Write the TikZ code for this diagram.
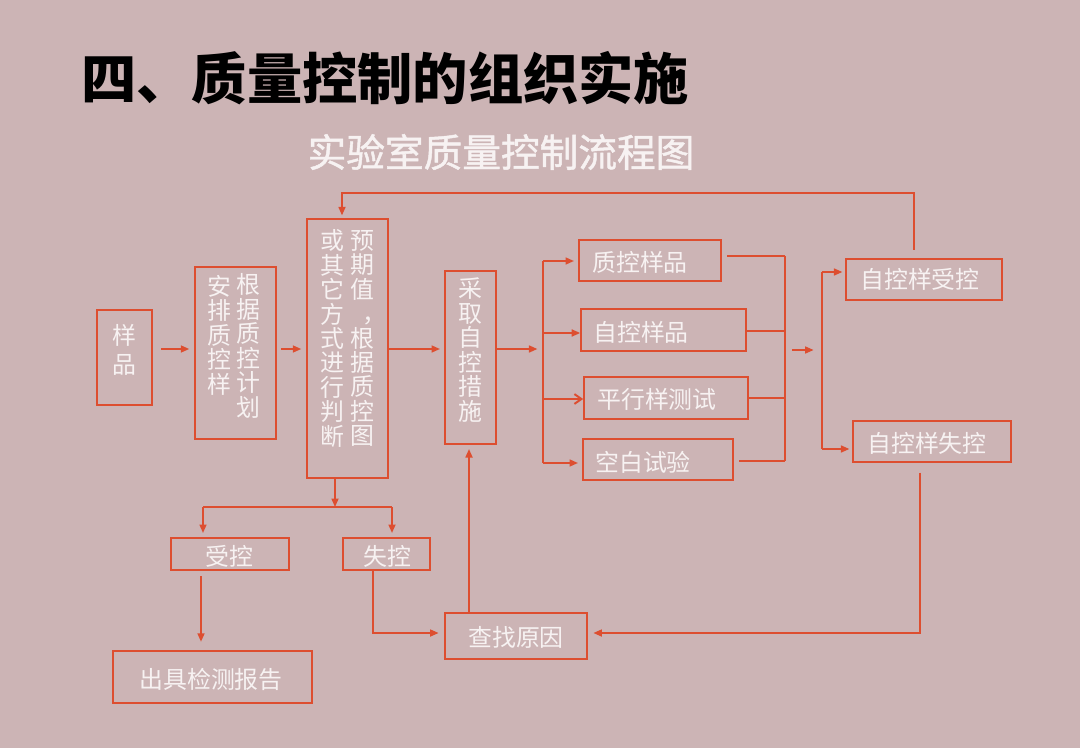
\documentclass[tikz,border=0pt]{standalone}
\usepackage{fontspec}
\newfontfamily\cjk{Noto Sans CJK SC}
\newfontfamily\cjkfb[FakeBold=1.2]{Noto Sans CJK SC}
\usetikzlibrary{arrows.meta,fit,calc}
\definecolor{bgc}{RGB}{204,180,181}
\definecolor{lineRed}{RGB}{221,78,48}
\definecolor{wt}{RGB}{247,242,242}
\tikzset{
  bx/.style={draw=lineRed, line width=1.2pt, inner sep=0pt, rectangle},
  lbl/.style={text=wt, font=\cjk\fontsize{17}{17.4}\selectfont, inner sep=0pt, align=center},
  conn/.style={draw=lineRed, line width=1.1pt},
  arr/.style={conn, -{Triangle[length=6pt,width=5pt]}},
  oarr/.style={conn, line width=1.4pt, -{Straight Barb[length=5pt,width=7pt]}},
}
\begin{document}
\begin{tikzpicture}[x=0.025cm,y=-0.025cm]
\fill[bgc] (0,0) rectangle (1080,748);
\useasboundingbox (0,0) rectangle (1080,748);

% titles
\node[anchor=west, inner sep=0pt, font=\cjk\bfseries\fontsize{39.3}{40}\selectfont, text=black] (title) at (81,78) {四、质量控制的组织实施};
\node[inner sep=0pt, font=\cjkfb\fontsize{27.5}{28}\selectfont, text=wt] (sub) at (501,152) {实验室质量控制流程图};

% boxes
\node[bx, fit={(97,310)(152,405)}] (s) {};
\node[bx, fit={(195,267)(276,439)}] (b2) {};
\node[bx, fit={(307,219)(388,478)}] (b3) {};
\node[bx, fit={(445,271)(496,444)}] (b4) {};
\node[bx, fit={(579,240)(721,281)}] (q1) {};
\node[bx, fit={(581,309)(746,351)}] (q2) {};
\node[bx, fit={(584,377)(748,419)}] (q3) {};
\node[bx, fit={(583,439)(733,480)}] (q4) {};
\node[bx, fit={(846,259)(1002,300)}] (c1) {};
\node[bx, fit={(853,421)(1011,462)}] (c2) {};
\node[bx, fit={(171,538)(289,570)}] (k1) {};
\node[bx, fit={(343,538)(430,570)}] (k2) {};
\node[bx, fit={(445,613)(587,659)}] (f) {};
\node[bx, fit={(113,651)(312,703)}] (rp) {};

% labels
\node[lbl, font=\cjk\fontsize{17}{21}\selectfont] (ts) at (124,350) {样\\品};
\node[lbl] (t2r) at (248,346) {根\\据\\质\\控\\计\\划};
\node[lbl] (t2l) at (219,335) {安\\排\\质\\控\\样};
\node[lbl] (t3r) at (362,338.5) {预\\期\\值\\\makebox[1em][l]{\hspace{0.5em}，}\\根\\据\\质\\控\\图};
\node[lbl] (t3l) at (332,338.5) {或\\其\\它\\方\\式\\进\\行\\判\\断};
\node[lbl] (t4) at (470,350) {采\\取\\自\\控\\措\\施};
\node[lbl] (tq1) at (640,262) {质控样品};
\node[lbl] (tq2) at (641,332) {自控样品};
\node[lbl] (tq3) at (657,399) {平行样测试};
\node[lbl] (tq4) at (643,462) {空白试验};
\node[lbl] (tc1) at (920,279) {自控样受控};
\node[lbl] (tc2) at (927,443) {自控样失控};
\node[lbl] (tk1) at (229,556) {受控};
\node[lbl] (tk2) at (387,556) {失控};
\node[lbl] (tf) at (516,637) {查找原因};
\node[lbl] (trp) at (211,679) {出具检测报告};

% coordinates
\coordinate (r) at (0,349);
\coordinate (bL) at (543,349);
\coordinate (bl1) at (543,261);
\coordinate (bl2) at (543,333);
\coordinate (bl3) at (543,399);
\coordinate (bl4) at (543,463);
\coordinate (br1) at (785,256);
\coordinate (br2) at (785,331);
\coordinate (br3) at (785,398);
\coordinate (br4) at (785,461);
\coordinate (bm) at (785,350);
\coordinate (bc) at (822,350);
\coordinate (bc1) at (822,272);
\coordinate (bc2) at (822,449);
\coordinate (fbt) at (914,193);
\coordinate (fbl) at (342,193);
\coordinate (fbb) at (920,633);
\coordinate (fx) at (469,0);
\coordinate (j) at (335,507);
\coordinate (jl) at (203,507);
\coordinate (jr) at (392,507);
\coordinate (kx) at (201,0);
\coordinate (kf) at (373,633);

% main row
\draw[arr, shorten <=6pt, shorten >=3.5pt] (s.east |- r) -- (b2.west |- r);
\draw[arr, shorten <=3pt, shorten >=3.5pt] (b2.east |- r) -- (b3.west |- r);
\draw[arr, shorten >=3pt] (b3.east |- r) -- (b4.west |- r);
\draw[arr, shorten >=4pt] (b4.east |- r) -- (bL);

% left bar
\draw[conn] (bl1) -- (bl4);
\draw[arr, shorten >=3pt] (bl1) -- (q1.west |- bl1);
\draw[arr] (bl2) -- (q2.west |- bl2);
\draw[oarr] (bl3) -- (q3.west |- bl3);
\draw[arr, shorten >=3pt] (bl4) -- (q4.west |- bl4);

% right bar
\draw[conn, shorten <=4pt] (q1.east |- br1) -- (br1);
\draw[conn] (q2.east |- br2) -- (br2);
\draw[conn] (q3.east |- br3) -- (br3);
\draw[conn, shorten <=4pt] (q4.east |- br4) -- (br4);
\draw[conn] (br1) -- (br4);
\draw[arr, shorten <=5pt, shorten >=6pt] (bm) -- (bc);
\draw[conn] (bc1) -- (bc2);
\draw[arr, shorten >=2pt] (bc1) -- (c1.west |- bc1);
\draw[arr, shorten >=2pt] (bc2) -- (c2.west |- bc2);

% feedback loops
\draw[arr, shorten <=6pt, shorten >=2pt] (c1.north -| fbt) -- (fbt) -- (fbl) -- (b3.north -| fbl);
\draw[arr, shorten <=7pt, shorten >=4pt] (c2.south -| fbb) -- (fbb) -- (f.east |- fbb);
\draw[arr, shorten >=3pt] (f.north -| fx) -- (b4.south -| fx);

% bottom branch
\draw[arr] (b3.south -| j) -- (j);
\draw[conn] (jl) -- (jr);
\draw[arr, shorten >=3pt] (jl) -- (k1.north -| jl);
\draw[arr, shorten >=3pt] (jr) -- (k2.north -| jr);
\draw[arr, shorten <=4pt, shorten >=6pt] (k1.south -| kx) -- (rp.north -| kx);
\draw[arr, shorten >=4pt] (k2.south -| kf) -- (kf) -- (f.west |- kf);
\end{tikzpicture}
\end{document}
